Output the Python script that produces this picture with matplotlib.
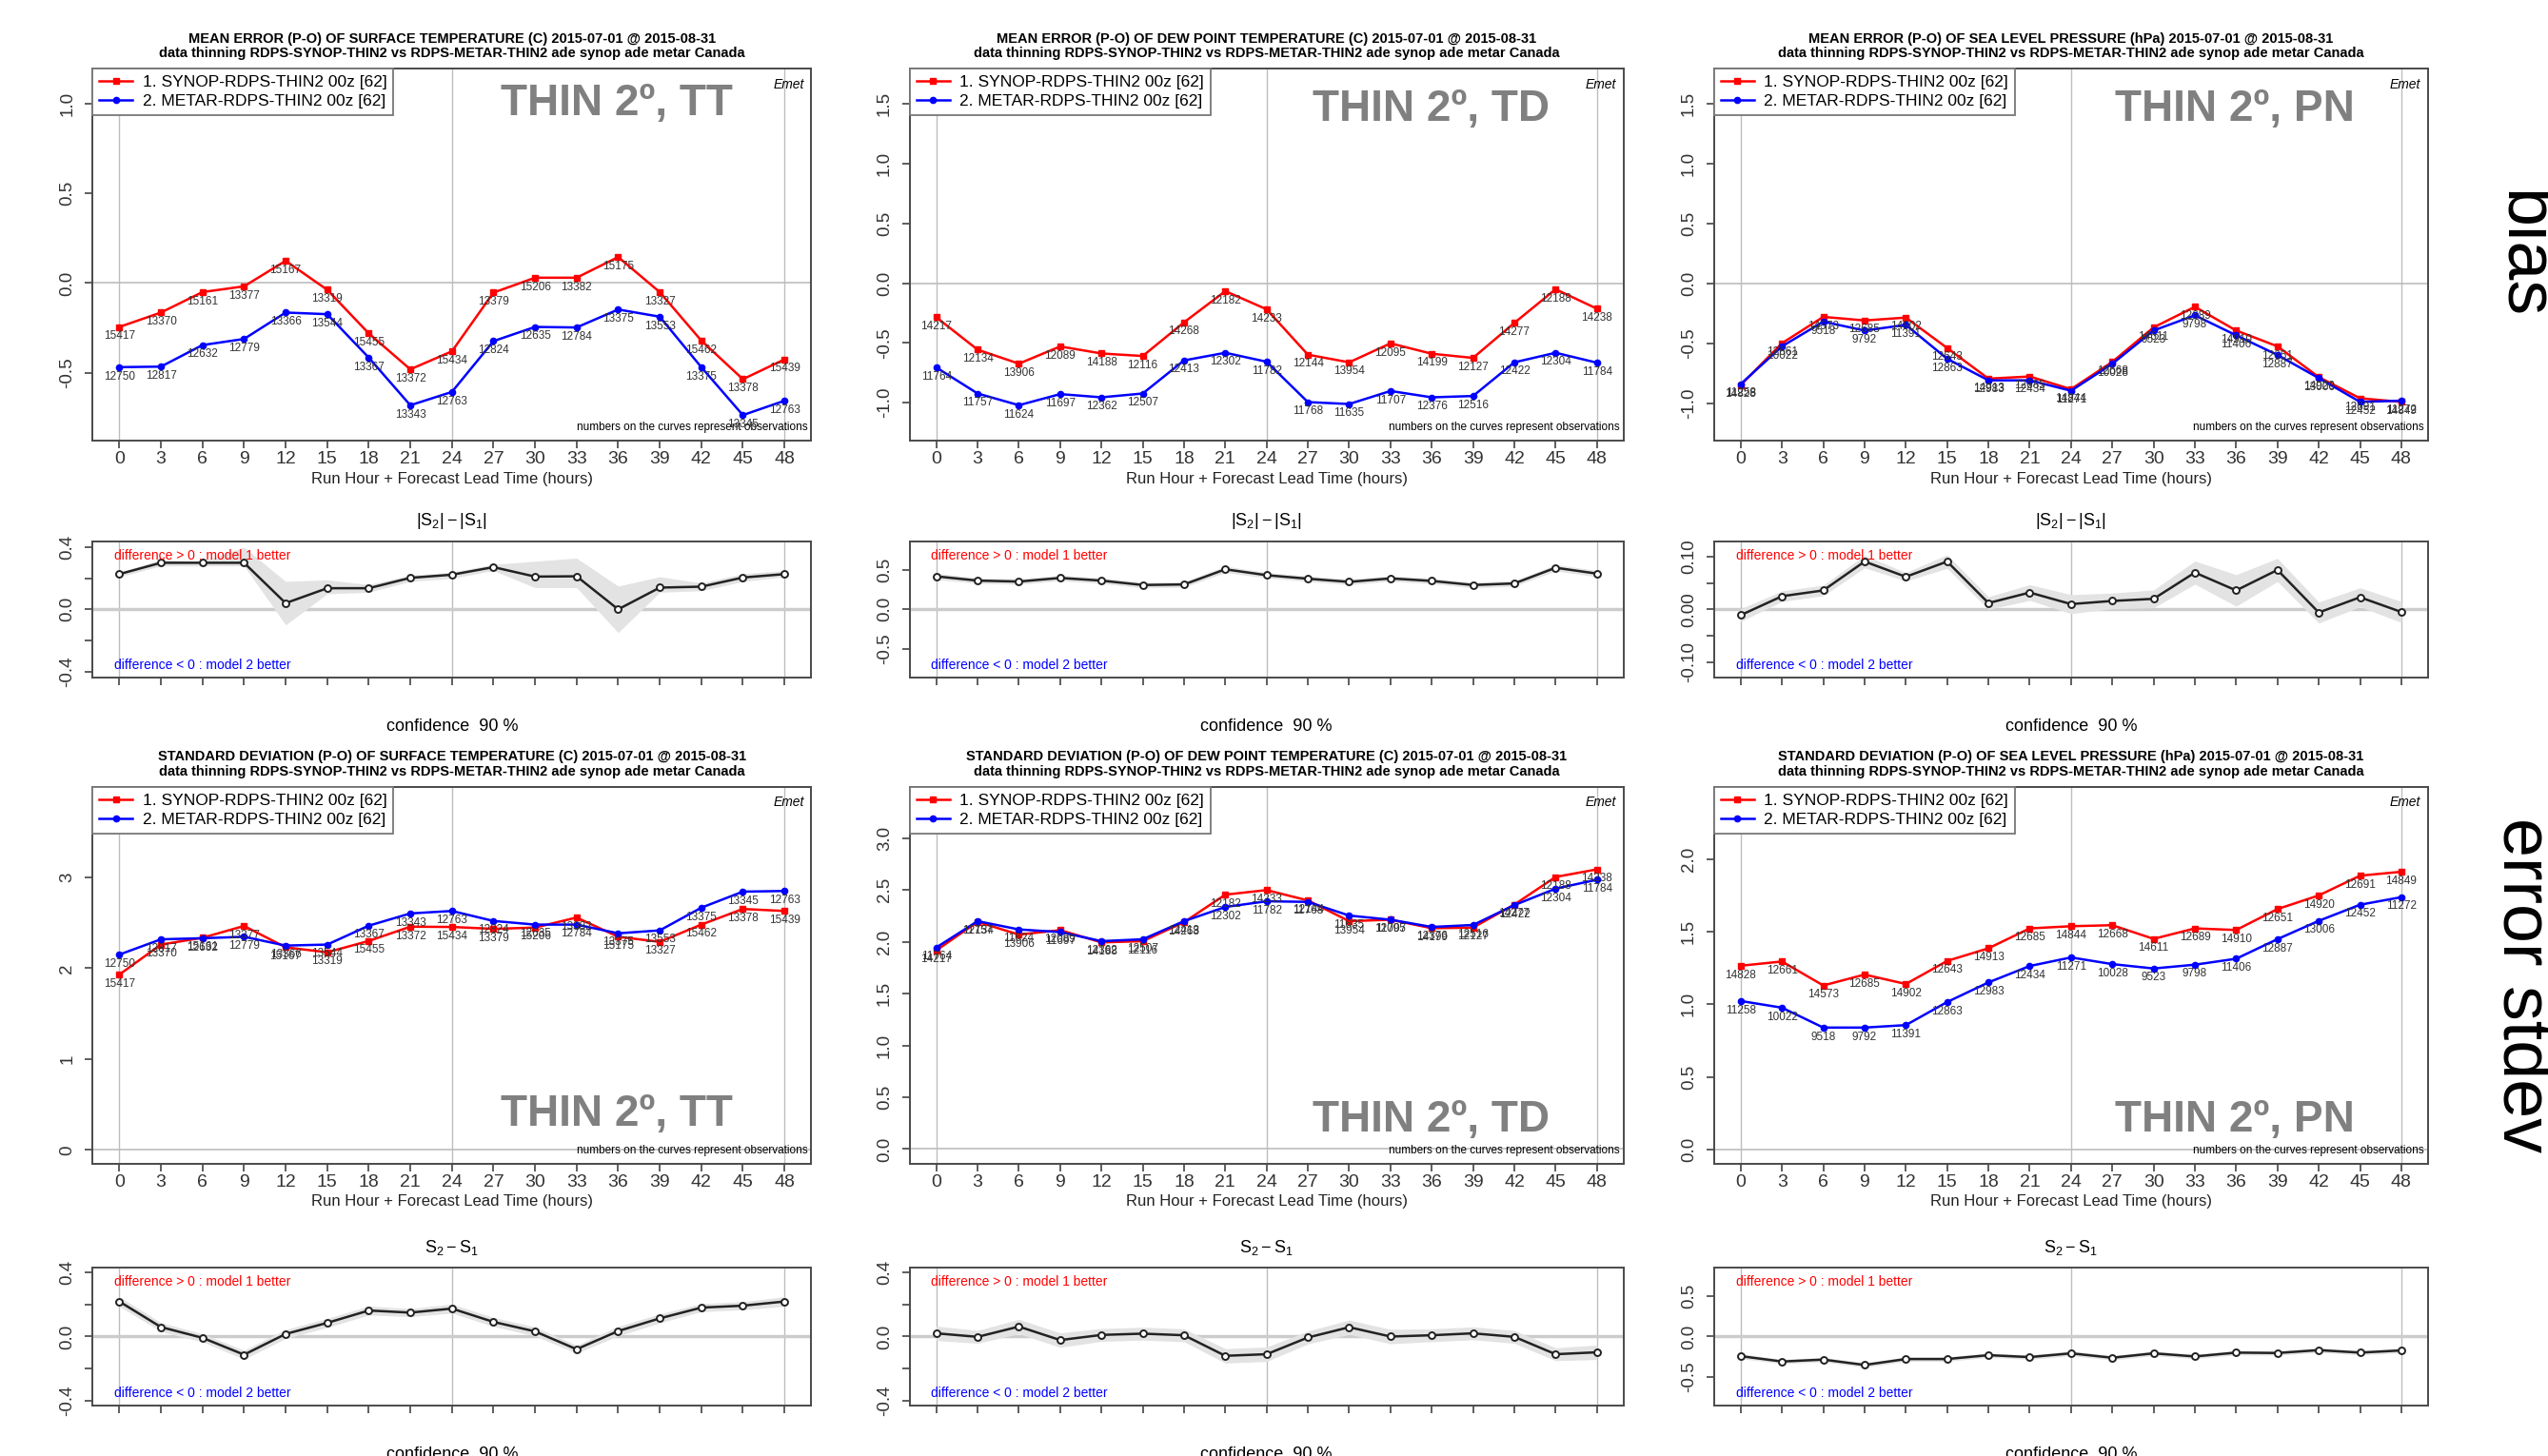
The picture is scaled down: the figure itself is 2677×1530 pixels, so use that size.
import matplotlib
matplotlib.use('Agg')
import matplotlib.pyplot as plt
from matplotlib import font_manager

names = {f.name for f in font_manager.fontManager.ttflist}
NARROW = 'Liberation Sans Narrow' if 'Liberation Sans Narrow' in names else 'Liberation Sans'
REG = 'Liberation Sans'

plt.rcParams['font.family'] = [NARROW, 'DejaVu Sans']
plt.rcParams['mathtext.fontset'] = 'custom'
plt.rcParams['mathtext.rm'] = NARROW
plt.rcParams['mathtext.it'] = NARROW + ':italic'

hours = list(range(0, 49, 3))

# ---- mean error (bias) ----
tt_bias_synop = [-0.244, -0.164, -0.05, -0.018, 0.124, -0.037, -0.28, -0.48, -0.38,
                 -0.053, 0.03, 0.03, 0.145, -0.05, -0.32, -0.535, -0.425]
tt_bias_metar = [-0.468, -0.465, -0.345, -0.311, -0.164, -0.173, -0.415, -0.68, -0.606,
                 -0.323, -0.244, -0.247, -0.147, -0.187, -0.468, -0.735, -0.655]
td_bias_synop = [-0.285, -0.556, -0.673, -0.529, -0.588, -0.609, -0.327, -0.066, -0.218,
                 -0.598, -0.662, -0.503, -0.59, -0.625, -0.332, -0.05, -0.213]
td_bias_metar = [-0.705, -0.923, -1.021, -0.928, -0.955, -0.923, -0.646, -0.582, -0.657,
                 -0.995, -1.011, -0.902, -0.955, -0.944, -0.662, -0.582, -0.665]
pn_bias_synop = [-0.849, -0.50, -0.28, -0.31, -0.286, -0.54, -0.796, -0.778, -0.884,
                 -0.656, -0.368, -0.196, -0.394, -0.526, -0.783, -0.96, -0.99]
pn_bias_metar = [-0.841, -0.526, -0.32, -0.394, -0.347, -0.63, -0.81, -0.81, -0.897,
                 -0.672, -0.394, -0.267, -0.434, -0.598, -0.791, -0.99, -0.98]

# ---- error standard deviation ----
tt_std_synop = [1.93, 2.26, 2.335, 2.465, 2.23, 2.175, 2.30, 2.457, 2.454,
                2.433, 2.447, 2.558, 2.346, 2.29, 2.48, 2.652, 2.63]
tt_std_metar = [2.15, 2.318, 2.33, 2.346, 2.249, 2.26, 2.468, 2.603, 2.63,
                2.52, 2.48, 2.48, 2.384, 2.416, 2.666, 2.843, 2.85]
td_std_synop = [1.918, 2.193, 2.07, 2.113, 1.995, 2.007, 2.19, 2.456, 2.50,
                2.40, 2.20, 2.214, 2.132, 2.138, 2.36, 2.627, 2.70]
td_std_metar = [1.946, 2.20, 2.12, 2.095, 2.007, 2.025, 2.20, 2.337, 2.392,
                2.386, 2.254, 2.214, 2.144, 2.163, 2.355, 2.514, 2.60]
pn_std_synop = [1.266, 1.295, 1.13, 1.205, 1.14, 1.299, 1.386, 1.523, 1.538,
                1.545, 1.451, 1.523, 1.512, 1.656, 1.75, 1.886, 1.913]
pn_std_metar = [1.023, 0.977, 0.84, 0.84, 0.857, 1.016, 1.151, 1.264, 1.323,
                1.277, 1.247, 1.273, 1.314, 1.449, 1.575, 1.686, 1.738]

# ---- observation counts written on the curves ----
tt_n_synop = [15417, 13370, 15161, 13377, 15167, 13319, 15455, 13372, 15434,
              13379, 15206, 13382, 15175, 13327, 15462, 13378, 15439]
tt_n_metar = [12750, 12817, 12632, 12779, 13366, 13544, 13367, 13343, 12763,
              12824, 12635, 12784, 13375, 13553, 13375, 13345, 12763]
td_n_synop = [14217, 12134, 13906, 12089, 14188, 12116, 14268, 12182, 14233,
              12144, 13954, 12095, 14199, 12127, 14277, 12188, 14238]
td_n_metar = [11764, 11757, 11624, 11697, 12362, 12507, 12413, 12302, 11782,
              11768, 11635, 11707, 12376, 12516, 12422, 12304, 11784]
pn_n_synop = [14828, 12661, 14573, 12685, 14902, 12643, 14913, 12685, 14844,
              12668, 14611, 12689, 14910, 12651, 14920, 12691, 14849]
pn_n_metar = [11258, 10022, 9518, 9792, 11391, 12863, 12983, 12434, 11271,
              10028, 9523, 9798, 11406, 12887, 13006, 12452, 11272]

# ---- differences and 90% confidence bands ----
tt_bias_diff = [0.227, 0.30, 0.30, 0.30, 0.04, 0.136, 0.136, 0.203, 0.223,
                0.272, 0.211, 0.213, 0.0, 0.14, 0.146, 0.205, 0.227]
tt_bias_lo = [0.21, 0.28, 0.28, 0.28, -0.10, 0.10, 0.11, 0.18, 0.20,
              0.25, 0.14, 0.14, -0.15, 0.11, 0.12, 0.18, 0.21]
tt_bias_hi = [0.24, 0.32, 0.31, 0.40, 0.18, 0.19, 0.16, 0.22, 0.24,
              0.29, 0.31, 0.33, 0.15, 0.21, 0.17, 0.23, 0.25]
td_bias_diff = [0.42, 0.366, 0.354, 0.40, 0.366, 0.31, 0.317, 0.51, 0.435,
                0.39, 0.35, 0.394, 0.362, 0.31, 0.33, 0.53, 0.455]
td_bias_hw = [0.04, 0.035, 0.035, 0.035, 0.035, 0.035, 0.035, 0.04, 0.035,
              0.035, 0.035, 0.035, 0.035, 0.035, 0.035, 0.04, 0.04]
pn_bias_diff = [-0.011, 0.025, 0.036, 0.091, 0.062, 0.091, 0.012, 0.032, 0.01,
                0.016, 0.02, 0.07, 0.036, 0.075, -0.006, 0.023, -0.005]
pn_bias_hw = [0.012, 0.01, 0.01, 0.012, 0.008, 0.013, 0.012, 0.015, 0.018,
              0.015, 0.017, 0.022, 0.03, 0.022, 0.02, 0.018, 0.02]
tt_std_diff = [0.218, 0.059, -0.008, -0.113, 0.016, 0.085, 0.162, 0.149, 0.174,
               0.091, 0.032, -0.079, 0.034, 0.113, 0.18, 0.192, 0.218]
tt_std_hw = [0.03, 0.028, 0.025, 0.028, 0.028, 0.028, 0.028, 0.025, 0.028,
             0.028, 0.028, 0.025, 0.03, 0.028, 0.025, 0.025, 0.03]
td_std_diff = [0.02, -0.002, 0.062, -0.022, 0.01, 0.018, 0.008, -0.12, -0.11,
               -0.006, 0.058, 0.0, 0.008, 0.02, -0.002, -0.11, -0.098]
td_std_hw = [0.045, 0.04, 0.045, 0.045, 0.04, 0.04, 0.04, 0.045, 0.045,
             0.04, 0.045, 0.045, 0.04, 0.04, 0.04, 0.04, 0.045]
pn_std_diff = [-0.244, -0.311, -0.287, -0.354, -0.28, -0.28, -0.232, -0.256, -0.209,
               -0.264, -0.209, -0.248, -0.2, -0.205, -0.169, -0.2, -0.173]
pn_std_hw = [0.03, 0.028, 0.028, 0.03, 0.028, 0.028, 0.028, 0.028, 0.03,
             0.028, 0.028, 0.028, 0.028, 0.028, 0.028, 0.028, 0.03]

SUB = 'data thinning RDPS-SYNOP-THIN2 vs RDPS-METAR-THIN2 ade synop ade metar Canada'
PERIOD = '2015-07-01 @ 2015-08-31'
LAB1 = '1. SYNOP-RDPS-THIN2 00z [62]'
LAB2 = '2. METAR-RDPS-THIN2 00z [62]'
FRAME = '#4a4a4a'
GRIDC = '#bdbdbd'

fig = plt.figure(figsize=(26.77, 15.30), dpi=100)

lefts = [0.0364, 0.3571, 0.6728]
widths = [0.2819, 0.2800, 0.2800]
rows = {'main1': (0.6975, 0.2556), 'diff1': (0.5346, 0.0938),
        'main2': (0.2009, 0.2589), 'diff2': (0.0346, 0.0949)}


def frame(ax):
    for s in ax.spines.values():
        s.set_color(FRAME)
        s.set_linewidth(1.4)
    ax.set_xlim(-1.92, 49.92)
    ax.tick_params(direction='out', length=6, width=1.1, colors='#333333',
                   labelsize=14, pad=2)
    ax.tick_params(axis='y', pad=7)
    ax.set_xticks(hours)
    for x in (0, 24, 48):
        ax.axvline(x, color=GRIDC, lw=1.0, zorder=0)


def main_panel(ax, title, red, blue, nred, nblue, ylim, yticks, ylabels, tag, tag_y):
    frame(ax)
    ax.axhline(0, color=GRIDC, lw=1.2, zorder=0)
    ax.plot(hours, red, color='red', lw=1.8, marker='s', ms=4.5, label=LAB1, zorder=3)
    ax.plot(hours, blue, color='blue', lw=1.8, marker='o', ms=4.5, label=LAB2, zorder=3)
    for x, y, n in zip(hours, red, nred):
        ax.annotate(str(n), (x, y), xytext=(0, -7), textcoords='offset points',
                    ha='center', va='center', fontsize=8.5, color='#333333', zorder=4)
    for x, y, n in zip(hours, blue, nblue):
        ax.annotate(str(n), (x, y), xytext=(0, -7), textcoords='offset points',
                    ha='center', va='center', fontsize=8.5, color='#333333', zorder=4)
    ax.set_ylim(*ylim)
    ax.set_yticks(yticks)
    ax.set_yticklabels(ylabels, rotation=90, va='center', fontfamily=REG, fontsize=13.5)
    ax.set_xticklabels([str(h) for h in hours])
    leg = ax.legend(loc='upper left', borderaxespad=0, fancybox=False, framealpha=1,
                    edgecolor='#777777', fontsize=12.5, handlelength=2.0,
                    labelspacing=0.3, borderpad=0.4, handletextpad=0.6)
    leg.get_frame().set_linewidth(1.3)
    ax.annotate(title, xy=(0.5, 1), xycoords='axes fraction', xytext=(0, 22.5),
                textcoords='offset points', ha='center', va='center',
                fontsize=10.5, fontweight='bold')
    ax.annotate(SUB, xy=(0.5, 1), xycoords='axes fraction', xytext=(0, 11.5),
                textcoords='offset points', ha='center', va='center',
                fontsize=10.5, fontweight='bold')
    ax.annotate('Run Hour + Forecast Lead Time (hours)', xy=(0.5, 0),
                xycoords='axes fraction', xytext=(0, -29), textcoords='offset points',
                ha='center', va='center', fontsize=12, color='#222222')
    ax.text(0.99, 0.975, 'Emet', transform=ax.transAxes, ha='right', va='top',
            fontsize=10, style='italic')
    ax.text(0.995, 0.02, 'numbers on the curves represent observations',
            transform=ax.transAxes, ha='right', va='bottom', fontsize=8.5)
    ax.text(0.73, tag_y, tag, transform=ax.transAxes, ha='center', va='center',
            fontsize=33, fontweight='bold', color='#808080')


def diff_panel(ax, title, d, lo, hi, ylim, yticks, ylabels):
    frame(ax)
    ax.axhline(0, color='#cccccc', lw=2.5, zorder=0)
    ax.fill_between(hours, lo, hi, color='#e3e3e3', lw=0, zorder=1)
    ax.plot(hours, d, color='#222222', lw=1.8, marker='o', ms=5, mfc='white',
            mec='#222222', mew=1.4, zorder=3)
    ax.set_ylim(*ylim)
    ax.set_yticks(yticks)
    ax.set_yticklabels(ylabels, rotation=90, va='center', fontfamily=REG, fontsize=13.5)
    ax.set_xticklabels([])
    ax.text(0.03, 0.895, 'difference > 0 : model 1 better', transform=ax.transAxes,
            color='red', fontsize=10, va='center')
    ax.text(0.03, 0.09, 'difference < 0 : model 2 better', transform=ax.transAxes,
            color='blue', fontsize=10, va='center')
    ax.annotate(title, xy=(0.5, 1), xycoords='axes fraction', xytext=(0, 15),
                textcoords='offset points', ha='center', va='center', fontsize=13)
    ax.annotate('confidence  90 %', xy=(0.5, 0), xycoords='axes fraction',
                xytext=(0, -37), textcoords='offset points', ha='center',
                va='center', fontsize=13)


def band(d, hw):
    return [a - b for a, b in zip(d, hw)], [a + b for a, b in zip(d, hw)]


def axes_at(col, key):
    b, h = rows[key]
    return fig.add_axes([lefts[col], b, widths[col], h])


bias_ticks_tt = ([-0.5, 0.0, 0.5, 1.0], ['-0.5', '0.0', '0.5', '1.0'])
bias_ticks_big = ([-1.0, -0.5, 0.0, 0.5, 1.0, 1.5], ['-1.0', '-0.5', '0.0', '0.5', '1.0', '1.5'])
d4 = ([-0.4, -0.2, 0.0, 0.2, 0.4], ['-0.4', '', '0.0', '', '0.4'])
d5 = ([-0.5, 0.0, 0.5], ['-0.5', '0.0', '0.5'])
d10 = ([-0.10, -0.05, 0.0, 0.05, 0.10], ['-0.10', '', '0.00', '', '0.10'])

main_panel(axes_at(0, 'main1'),
           'MEAN ERROR (P-O) OF SURFACE TEMPERATURE (C) ' + PERIOD,
           tt_bias_synop, tt_bias_metar, tt_n_synop, tt_n_metar,
           (-0.876, 1.196), *bias_ticks_tt, 'THIN 2º, TT', 0.905)
main_panel(axes_at(1, 'main1'),
           'MEAN ERROR (P-O) OF DEW POINT TEMPERATURE (C) ' + PERIOD,
           td_bias_synop, td_bias_metar, td_n_synop, td_n_metar,
           (-1.316, 1.80), *bias_ticks_big, 'THIN 2º, TD', 0.89)
main_panel(axes_at(2, 'main1'),
           'MEAN ERROR (P-O) OF SEA LEVEL PRESSURE (hPa) ' + PERIOD,
           pn_bias_synop, pn_bias_metar, pn_n_synop, pn_n_metar,
           (-1.312, 1.796), *bias_ticks_big, 'THIN 2º, PN', 0.89)

main_panel(axes_at(0, 'main2'),
           'STANDARD DEVIATION (P-O) OF SURFACE TEMPERATURE (C) ' + PERIOD,
           tt_std_synop, tt_std_metar, tt_n_synop, tt_n_metar,
           (-0.15, 4.0), [0, 1, 2, 3], ['0', '1', '2', '3'], 'THIN 2º, TT', 0.13)
main_panel(axes_at(1, 'main2'),
           'STANDARD DEVIATION (P-O) OF DEW POINT TEMPERATURE (C) ' + PERIOD,
           td_std_synop, td_std_metar, td_n_synop, td_n_metar,
           (-0.14, 3.5), [0, 0.5, 1.0, 1.5, 2.0, 2.5, 3.0],
           ['0.0', '0.5', '1.0', '1.5', '2.0', '2.5', '3.0'], 'THIN 2º, TD', 0.115)
main_panel(axes_at(2, 'main2'),
           'STANDARD DEVIATION (P-O) OF SEA LEVEL PRESSURE (hPa) ' + PERIOD,
           pn_std_synop, pn_std_metar, pn_n_synop, pn_n_metar,
           (-0.096, 2.5), [0, 0.5, 1.0, 1.5, 2.0],
           ['0.0', '0.5', '1.0', '1.5', '2.0'], 'THIN 2º, PN', 0.115)

abs_title = r'$|\mathrm{S}_2| - |\mathrm{S}_1|$'
std_title = r'$\mathrm{S}_2 - \mathrm{S}_1$'

diff_panel(axes_at(0, 'diff1'), abs_title, tt_bias_diff, tt_bias_lo, tt_bias_hi,
           (-0.44, 0.44), *d4)
diff_panel(axes_at(1, 'diff1'), abs_title, td_bias_diff, *band(td_bias_diff, td_bias_hw),
           (-0.87, 0.87), *d5)
diff_panel(axes_at(2, 'diff1'), abs_title, pn_bias_diff, *band(pn_bias_diff, pn_bias_hw),
           (-0.13, 0.13), *d10)
diff_panel(axes_at(0, 'diff2'), std_title, tt_std_diff, *band(tt_std_diff, tt_std_hw),
           (-0.43, 0.43), *d4)
diff_panel(axes_at(1, 'diff2'), std_title, td_std_diff, *band(td_std_diff, td_std_hw),
           (-0.43, 0.43), *d4)
diff_panel(axes_at(2, 'diff2'), std_title, pn_std_diff, *band(pn_std_diff, pn_std_hw),
           (-0.86, 0.86), *d5)

fig.text(0.977, 0.825, 'bias', rotation=-90, fontsize=53, family=REG,
         ha='left', va='center')
fig.text(0.977, 0.3237, 'error stdev', rotation=-90, fontsize=53, family=REG,
         ha='left', va='center')

fig.savefig('out.png', dpi=100)
